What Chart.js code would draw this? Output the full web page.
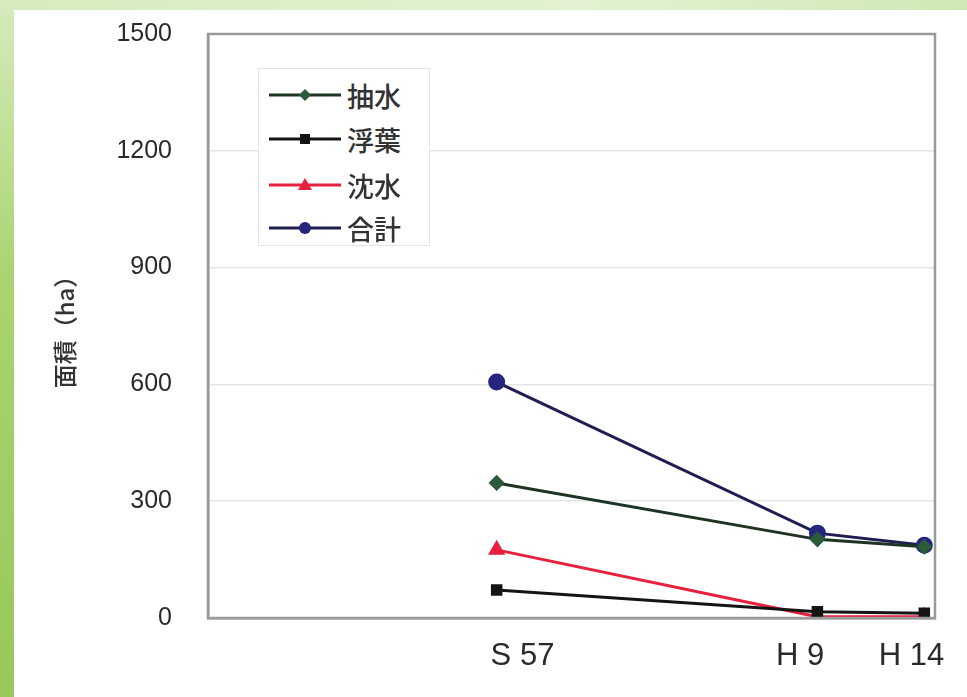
<!DOCTYPE html>
<html lang="ja">
<head>
<meta charset="utf-8">
<title>面積（ha）</title>
<script src="https://cdn.jsdelivr.net/npm/chart.js@4.4.1/dist/chart.umd.min.js"></script>
<style>
  html, body { margin: 0; padding: 0; background: #ffffff; }
  body { width: 967px; height: 697px; position: relative; overflow: hidden; }
  .edge-left { position: absolute; left: 0; top: 0; width: 14px; height: 697px;
    background: linear-gradient(to bottom, #d6ebbd, #a9d46f 40%, #96c85a); }
  .edge-top { position: absolute; left: 0; top: 0; width: 967px; height: 10px;
    background: linear-gradient(to right, #d6ebbd, #e2f2d2 60%, #cfe8b4); }
  #wrap { position: absolute; left: 0; top: 0; width: 967px; height: 697px; }
  #legend { position: absolute; left: 258px; top: 68px; width: 172px; height: 178px;
    border: 1px solid #e4e4e4; background: #fff; box-sizing: border-box;
    font-family: "Noto Sans CJK JP", sans-serif; font-size: 27px; font-weight: 500; color: #333; }
  #legend .row { position: absolute; left: 10px; height: 40px; display: flex; align-items: center; }
  #legend svg { margin-right: 6px; }
</style>
</head>
<body>
<div class="edge-left"></div>
<div class="edge-top"></div>
<div id="wrap"><canvas id="chart" width="967" height="697"></canvas></div>
<div id="legend"></div>
<script>
// survey years on a year axis (S57 = 1982, H9 = 1997, H14 = 2002)
const YEARS = [1982, 1997, 2002];
// labels sit a little off their points in the original, padded with spaces
const YEAR_LABELS = { 1982: "      S 57", 1997: "H 9    ", 2002: "H 14   " };
const Y_TICKS = [0, 300, 600, 900, 1200, 1500];

const SERIES_NAMES = ["抽水", "浮葉", "沈水", "合計"];
const EMERGENT = [347, 202, 183];
const FLOATING = [72, 16, 12];
const SUBMERGED = [175, 3, 3];
const TOTAL = [606, 218, 187];

const SERIES_VALUES = [EMERGENT, FLOATING, SUBMERGED, TOTAL];
const LINE_COLORS = ["#1d3324", "#141414", "#e5213d", "#1e1e52"];
const POINT_COLORS = ["#2b5a38", "#141414", "#e5213d", "#25257e"];
const POINT_STYLES = ["rectRot", "rect", "triangle", "circle"];
const POINT_RADII = [6, 6, 7, 7];

const frameBox = {
  id: "frameBox",
  afterDraw(chart) {
    const { ctx, chartArea } = chart;
    ctx.save();
    ctx.strokeStyle = "#9a9a9a";
    ctx.lineWidth = 2.5;
    ctx.strokeRect(chartArea.left, chartArea.top, chartArea.right - chartArea.left, chartArea.bottom - chartArea.top);
    ctx.restore();
  },
};

const datasets = SERIES_NAMES.map((name, i) => ({
  label: name,
  data: YEARS.map((year, j) => ({ x: year, y: SERIES_VALUES[i][j] })),
  borderColor: LINE_COLORS[i],
  backgroundColor: POINT_COLORS[i],
  pointBackgroundColor: POINT_COLORS[i],
  pointBorderColor: POINT_COLORS[i],
  pointStyle: POINT_STYLES[i],
  pointRadius: POINT_RADII[i],
  borderWidth: 3,
  tension: 0,
  fill: false,
}));

new Chart(document.getElementById("chart"), {
  type: "line",
  data: { datasets },
  options: {
    responsive: false,
    animation: false,
    layout: { padding: { left: 50, top: 34, right: 32, bottom: 0 } },
    plugins: {
      legend: { display: false },
      tooltip: { enabled: false },
    },
    scales: {
      x: {
        type: "linear",
        min: 1968.5,
        max: 2002.5,
        afterBuildTicks(scale) {
          scale.ticks = YEARS.map((value) => ({ value }));
        },
        afterFit(scale) {
          scale.height = 79;
          scale.paddingLeft = 0;
          scale.paddingRight = 0;
        },
        grid: { display: false, drawTicks: false },
        border: { display: true, color: "#8a8a8a", width: 2.5 },
        ticks: {
          padding: 20,
          color: "#2a2a2a",
          font: { family: "Arial, 'Liberation Sans', sans-serif", size: 31 },
          callback(value) {
            return YEAR_LABELS[value] || "";
          },
          maxRotation: 0,
          autoSkip: false,
        },
      },
      y: {
        min: 0,
        max: 1500,
        afterBuildTicks(scale) {
          scale.ticks = Y_TICKS.map((value) => ({ value }));
        },
        afterFit(scale) {
          scale.width = 158;
          scale.paddingTop = 0;
          scale.paddingBottom = 0;
        },
        grid: { color: "#e6e6e6", lineWidth: 1.5, drawTicks: false },
        border: { display: true, color: "#9a9a9a", width: 2.5 },
        ticks: {
          padding: 36,
          color: "#2a2a2a",
          font: { family: "Arial, 'Liberation Sans', sans-serif", size: 25 },
          callback(value) {
            return String(value);
          },
        },
        title: {
          display: true,
          text: "面積（ha）",
          color: "#333",
          padding: 0,
          font: { family: "'Noto Sans CJK JP', sans-serif", size: 24, weight: "500" },
        },
      },
    },
  },
  plugins: [frameBox],
});

// legend drawn inside the plot, line + marker like the original
function markerSvg(i) {
  const c = POINT_COLORS[i];
  let shape = "";
  if (POINT_STYLES[i] === "rectRot") shape = `<polygon points="36,4 42,10 36,16 30,10" fill="${c}"/>`;
  if (POINT_STYLES[i] === "rect") shape = `<rect x="31" y="5" width="10" height="10" fill="${c}"/>`;
  if (POINT_STYLES[i] === "triangle") shape = `<polygon points="36,3 43,15 29,15" fill="${c}"/>`;
  if (POINT_STYLES[i] === "circle") shape = `<circle cx="36" cy="10" r="6" fill="${c}"/>`;
  return `<svg width="72" height="20"><line x1="0" y1="10" x2="72" y2="10" stroke="${LINE_COLORS[i]}" stroke-width="3"/>${shape}</svg>`;
}

const legend = document.getElementById("legend");
const legendTops = [6, 50, 96, 139];
SERIES_NAMES.forEach((name, i) => {
  const row = document.createElement("div");
  row.className = "row";
  row.style.top = legendTops[i] + "px";
  row.innerHTML = markerSvg(i) + `<span>${name}</span>`;
  legend.appendChild(row);
});
</script>
</body>
</html>
